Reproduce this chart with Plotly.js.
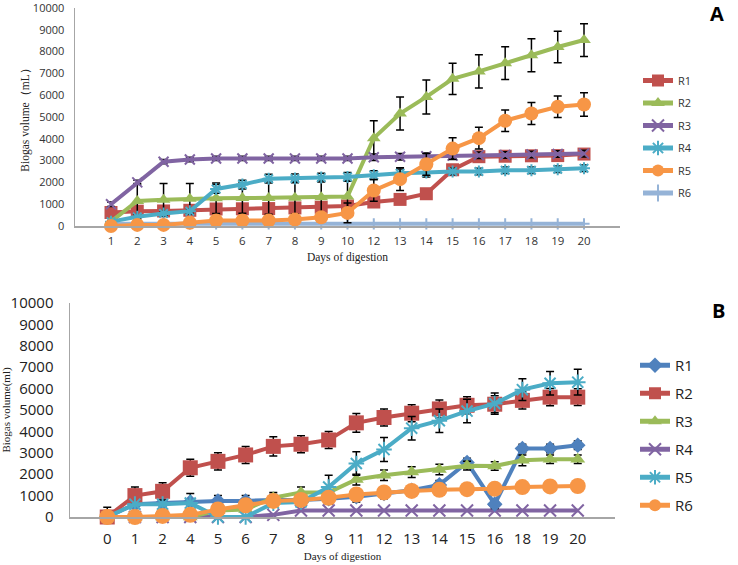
<!DOCTYPE html>
<html>
<head>
<meta charset="utf-8">
<script src="https://cdn.plot.ly/plotly-3.0.1.min.js"></script>
<style>html,body{margin:0;padding:0;background:#fff;}#chart{width:738px;height:565px;}</style>
</head>
<body>
<div id="chart"></div>
<script>
// ---------- Panel A data ----------
const daysA = ['1','2','3','4','5','6','7','8','9','10','12','13','14','15','16','17','18','19','20'];
const aR1 = [620, 680, 690, 720, 780, 790, 800, 830, 860, 920, 1100, 1220, 1480, 2580, 3180, 3200, 3220, 3230, 3300];
const aR2 = [200, 1150, 1200, 1250, 1270, 1280, 1290, 1300, 1320, 1350, 4030, 5160, 5920, 6750, 7090, 7470, 7830, 8210, 8530];
const aR3 = [1000, 2000, 2950, 3050, 3100, 3100, 3100, 3100, 3100, 3100, 3150, 3180, 3200, 3230, 3250, 3260, 3280, 3300, 3320];
const aR4 = [200, 420, 570, 680, 1700, 1900, 2170, 2180, 2220, 2250, 2330, 2420, 2450, 2500, 2500, 2560, 2560, 2600, 2650];
const aR5 = [0, 50, 50, 150, 250, 250, 250, 300, 400, 600, 1630, 2150, 2830, 3550, 4030, 4830, 5160, 5470, 5570];
const aR6 = [100, 100, 100, 100, 100, 100, 100, 100, 100, 100, 100, 100, 100, 100, 100, 100, 100, 100, 100];
const aE1 = [100, 100, 100, 100, 100, 100, 100, 100, 100, 100, 100, 100, 100, 150, 150, 120, 120, 120, 120];
const aE2 = [0, 800, 750, 700, 700, 700, 750, 750, 750, 750, 800, 760, 780, 720, 760, 750, 760, 720, 750];
const aE3 = [100, 100, 100, 100, 100, 100, 100, 100, 100, 100, 150, 150, 150, 150, 150, 150, 150, 150, 150];
const aE4 = [50, 100, 100, 100, 200, 200, 200, 200, 200, 200, 200, 200, 200, 150, 150, 150, 150, 150, 150];
const aE5 = [0, 0, 0, 0, 0, 0, 0, 0, 100, 450, 500, 520, 500, 500, 500, 490, 500, 490, 540];

// ---------- Panel B data ----------
const daysB = ['0','1','2','4','5','6','7','8','9','11','12','13','14','15','16','18','19','20'];
const bR1 = [0, 600, 650, 700, 750, 750, 800, 800, 850, 950, 1100, 1250, 1500, 2550, 600, 3200, 3200, 3350];
const bR2 = [0, 1000, 1200, 2300, 2600, 2900, 3300, 3400, 3600, 4400, 4650, 4850, 5050, 5220, 5270, 5450, 5600, 5600];
const bR3 = [0, 0, 0, 0, 300, 350, 900, 1150, 1150, 1750, 1950, 2100, 2220, 2400, 2380, 2650, 2700, 2700];
const bR4 = [0, 0, 0, 0, 0, 0, 100, 300, 300, 300, 300, 300, 300, 300, 300, 300, 300, 300];
const bR5 = [0, 600, 600, 650, 0, 0, 650, 700, 1400, 2500, 3150, 4150, 4500, 4950, 5300, 5950, 6250, 6300];
const bR6 = [0, 0, 50, 100, 350, 550, 750, 800, 900, 1050, 1150, 1220, 1270, 1300, 1320, 1400, 1430, 1450];
const bE1 = [0, 300, 300, 400, 250, 250, 250, 250, 250, 250, 250, 200, 200, 200, 200, 200, 200, 200];
const bE2 = [450, 400, 400, 400, 400, 400, 450, 400, 400, 440, 400, 400, 420, 400, 400, 400, 400, 390];
const bE3 = [0, 0, 0, 0, 0, 0, 250, 250, 250, 250, 250, 250, 250, 200, 200, 250, 200, 200];
const bE5 = [0, 0, 0, 0, 0, 0, 0, 0, 550, 550, 560, 550, 550, 550, 500, 510, 550, 600];

const colA = ['#C0504D','#9BBB59','#8064A2','#4BACC6','#F79646','#95B3D7'];
const colB = ['#4F81BD','#C0504D','#9BBB59','#8064A2','#4BACC6','#F79646'];

function err(arr){
  return arr ? {type:'data', array:arr, visible:true, color:'#000', thickness:1.5, width:4} : {visible:false};
}
function tr(x, y, name, color, sym, size, e, axis, legend, open){
  const m = {symbol:sym, size:size, color:color};
  if(open){ m.line = {color:color, width:2}; }
  return {
    type:'scatter', mode:'lines+markers', x:x, y:y, name:name,
    line:{color:color, width:4}, marker:m, error_y:err(e),
    xaxis: axis==='B' ? 'x2' : 'x', yaxis: axis==='B' ? 'y2' : 'y',
    legend: legend, legendgroup: axis+name, cliponaxis:false
  };
}

const data = [
  tr(daysA, aR6, 'R6', colA[5], 'cross-thin-open', 8, null, 'A', 'legend', true),
  tr(daysA, aR1, 'R1', colA[0], 'square', 13, aE1, 'A', 'legend', false),
  tr(daysA, aR2, 'R2', colA[1], 'triangle-up', 12, aE2, 'A', 'legend', false),
  tr(daysA, aR3, 'R3', colA[2], 'x-thin-open', 10, aE3, 'A', 'legend', true),
  tr(daysA, aR4, 'R4', colA[3], 'asterisk-open', 10, aE4, 'A', 'legend', true),
  tr(daysA, aR5, 'R5', colA[4], 'circle', 14, aE5, 'A', 'legend', false),

  tr(daysB, bR4, 'R4', colB[3], 'x-thin-open', 12, null, 'B', 'legend2', true),
  tr(daysB, bR1, 'R1', colB[0], 'diamond', 12, bE1, 'B', 'legend2', false),
  tr(daysB, bR3, 'R3', colB[2], 'triangle-up', 13, bE3, 'B', 'legend2', false),
  tr(daysB, bR2, 'R2', colB[1], 'square', 15, bE2, 'B', 'legend2', false),
  tr(daysB, bR5, 'R5', colB[4], 'asterisk-open', 13, bE5, 'B', 'legend2', true),
  tr(daysB, bR6, 'R6', colB[5], 'circle', 16, null, 'B', 'legend2', false)
];

const serif = 'Liberation Serif, Times New Roman, serif';
const sans = 'Open Sans, Liberation Sans, sans-serif';
const W = 738, H = 565;

const layout = {
  width: W, height: H,
  margin: {l:0, r:0, t:0, b:0},
  paper_bgcolor:'#fff', plot_bgcolor:'#fff',
  showlegend: true,
  xaxis: {
    domain:[75/W, 620/W], anchor:'y', type:'category',
    categoryorder:'array', categoryarray: daysA,
    showline:true, linecolor:'#A6A6A6', linewidth:1.5, showgrid:false, zeroline:false,
    ticks:'', tickfont:{family:sans, size:11.5, color:'#333'}, ticklabelstandoff:4,
    title:{text:'Days of digestion', font:{family:serif, size:11.5, color:'#222'}, standoff:5}
  },
  yaxis: {
    domain:[1-226/H, 1-8/H], anchor:'x', range:[0,10000], dtick:1000, tickformat:'d',
    ticklabeloverflow:'allow',
    showline:true, linecolor:'#A6A6A6', linewidth:1.5, showgrid:false, zeroline:false,
    ticks:'', tickfont:{family:sans, size:11, color:'#333'}, ticklabelstandoff:7,
    title:{text:'Biogas volume（mL）', font:{family:serif, size:11.5, color:'#222'}, standoff:1}
  },
  xaxis2: {
    domain:[70/W, 615/W], anchor:'y2', type:'category',
    categoryorder:'array', categoryarray: daysB,
    showline:true, linecolor:'#A6A6A6', linewidth:1.5, showgrid:false, zeroline:false,
    ticks:'', tickfont:{family:sans, size:15, color:'#222'}, ticklabelstandoff:7,
    title:{text:'Days of digestion', font:{family:serif, size:11, color:'#222'}, standoff:6}
  },
  yaxis2: {
    domain:[1-517/H, 1-303/H], anchor:'x2', range:[0,10000], dtick:1000, tickformat:'d',
    showline:true, linecolor:'#A6A6A6', linewidth:1.5, showgrid:false, zeroline:false,
    ticks:'', tickfont:{family:sans, size:15, color:'#222'}, ticklabelstandoff:12,
    title:{text:'Biogas volume(ml)', font:{family:serif, size:11, color:'#222'}, standoff:2}
  },
  legend: {
    x: 638/W, y: 1-66/H, xanchor:'left', yanchor:'top', itemsizing:'constant',
    traceorder:'grouped', tracegroupgap:3.5,
    font:{family:sans, size:11, color:'#333'}, bgcolor:'rgba(0,0,0,0)'
  },
  legend2: {
    x: 635/W, y: 1-349/H, xanchor:'left', yanchor:'top', itemsizing:'constant',
    traceorder:'grouped', tracegroupgap:5.5,
    font:{family:sans, size:15, color:'#222'}, bgcolor:'rgba(0,0,0,0)'
  },
  annotations: [
    {text:'<b>A</b>', xref:'paper', yref:'paper', x:717/W, y:1-14/H, showarrow:false,
     font:{family:sans, size:20, color:'#000'}, xanchor:'center', yanchor:'middle'},
    {text:'<b>B</b>', xref:'paper', yref:'paper', x:718/W, y:1-310/H, showarrow:false,
     font:{family:sans, size:20, color:'#000'}, xanchor:'center', yanchor:'middle'}
  ]
};

// legend order R1..R6
const orderA = {R1:1,R2:2,R3:3,R4:4,R5:5,R6:6};
data.forEach(t => { t.legendrank = orderA[t.name]; });

Plotly.newPlot('chart', data, layout, {displayModeBar:false, staticPlot:true});
</script>
</body>
</html>
